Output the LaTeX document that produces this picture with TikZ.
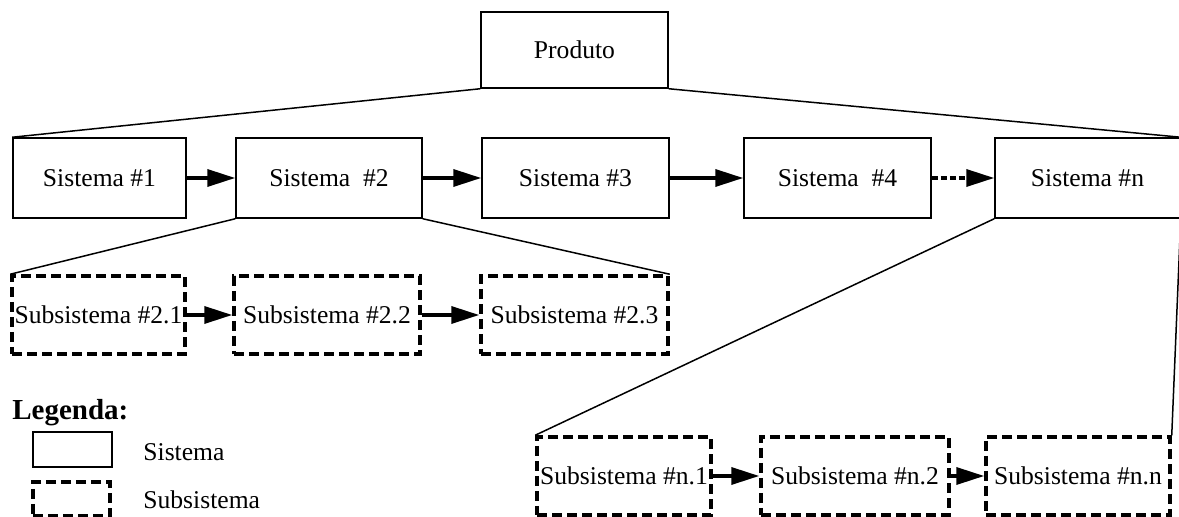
\documentclass[tikz,border=0pt]{standalone}
\usepackage{fontspec}
\setmainfont{Liberation Serif}
\usepackage{tikz}
\usetikzlibrary{arrows.meta, positioning}

\begin{document}
\begin{tikzpicture}[x=0.5pt, y=-0.5pt,
    every node/.style={font=\fontsize{12.8}{15}\selectfont},
    sysbox/.style={draw, line width=0.75pt, inner sep=0pt, minimum height=40pt},
    subbox/.style={draw, line width=1.75pt, dash pattern=on 5pt off 2.5pt, inner sep=0pt, minimum height=39pt},
    link/.style={line width=0.75pt},
    flow/.style={line width=1.75pt, -{Triangle[length=14pt, width=8.5pt]}}]
  \useasboundingbox (0, 0) rectangle (1179, 517);

  % Product
  \node[sysbox, minimum width=93.5pt, minimum height=38pt] (prod) at (574.5, 50) {Produto};

  % Systems
  \node[sysbox, minimum width=86.5pt] (s1) at (99.5, 178) {Sistema \#1};
  \node[sysbox, minimum width=93pt] (s2) at (329, 178) {Sistema\ \ \#2};
  \node[sysbox, minimum width=93.5pt] (s3) at (575.5, 178) {Sistema \#3};
  \node[sysbox, minimum width=93.5pt] (s4) at (837.5, 178) {Sistema\ \ \#4};
  \node[sysbox, minimum width=92.5pt] (sn) at (1087.5, 178) {Sistema \#n};

  \draw[link] (prod.south west) -- (s1.north west);
  \draw[link] (prod.south east) -- (sn.north east);

  \draw[flow] (s1) -- (s2);
  \draw[flow] (s2) -- (s3);
  \draw[flow] (s3) -- (s4);
  \draw[flow, dash pattern=on 3pt off 1.5pt] (s4) -- (sn);

  % Subsystems of system 2
  \node[subbox, minimum width=86.5pt] (u21) at (98.5, 315) {Subsistema \#2.1};
  \node[subbox, minimum width=93pt] (u22) at (327, 315) {Subsistema \#2.2};
  \node[subbox, minimum width=93.5pt] (u23) at (574.5, 315) {Subsistema \#2.3};

  \draw[link] (s2.south west) -- (u21.north west);
  \draw[link] (s2.south east) -- (u23.north east);

  \draw[flow] (u21) -- (u22);
  \draw[flow] (u22) -- (u23);

  % Subsystems of system n
  \node[subbox, minimum width=87pt] (un1) at (624, 476) {Subsistema \#n.1};
  \node[subbox, minimum width=94pt] (un2) at (855, 476) {Subsistema \#n.2};
  \node[subbox, minimum width=92pt] (unn) at (1078, 476) {Subsistema \#n.n};

  \draw[link] (sn.south west) -- (un1.north west);
  \draw[link] (sn.south east) -- (unn.north east);

  \draw[flow] (un1) -- (un2);
  \draw[flow] (un2) -- (unn);

  % Legend
  \node[anchor=west, inner sep=0pt, font=\fontsize{14.5}{17}\selectfont\bfseries] (leg) at (12, 413) {Legenda:};
  \node[sysbox, minimum width=39.5pt, minimum height=17.5pt] (legsys) at (72.5, 449.5) {};
  \node[subbox, minimum width=38.5pt, minimum height=17pt] (legsub) at (71.5, 499) {};
  \node[anchor=west, inner sep=0pt] (legsystxt) at (143, 452) {Sistema};
  \node[anchor=west, inner sep=0pt] (legsubtxt) at (143, 500) {Subsistema};
\end{tikzpicture}
\end{document}
